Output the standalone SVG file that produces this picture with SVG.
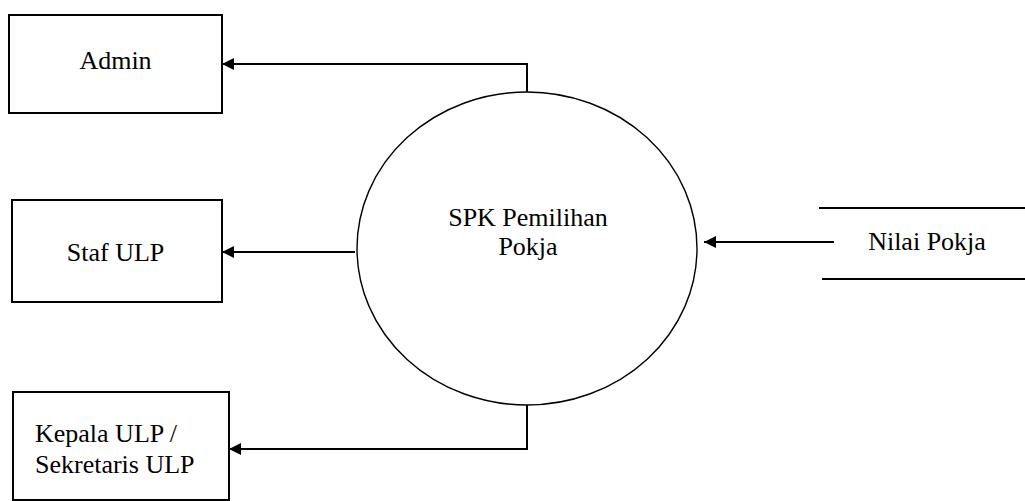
<svg xmlns="http://www.w3.org/2000/svg" width="1025" height="501" viewBox="0 0 1025 501">
  <style>
    .box { fill: #fff; stroke: #000; stroke-width: 2; }
    .proc { fill: #fff; stroke: #000; stroke-width: 1.4; }
    .flow { fill: none; stroke: #000; stroke-width: 2; marker-end: url(#arrow); }
    .store { stroke: #000; stroke-width: 2; }
    .lbl { font-family: "Liberation Serif", "Times New Roman", Times, "DejaVu Serif", serif; font-size: 26px; fill: #000; }
  </style>
  <defs>
    <marker id="arrow" viewBox="0 0 10 10" refX="10" refY="5" markerWidth="7.5" markerHeight="6" markerUnits="strokeWidth" orient="auto">
      <path d="M0,0 L10,5 L0,10 z" fill="#000"/>
    </marker>
  </defs>

  <!-- external entities -->
  <g id="admin">
    <rect class="box" x="9" y="15" width="213" height="98"/>
    <text class="lbl" x="115.5" y="69" text-anchor="middle">Admin</text>
  </g>
  <g id="staf-ulp">
    <rect class="box" x="12" y="200" width="210" height="102"/>
    <text class="lbl" x="115.5" y="261" text-anchor="middle">Staf ULP</text>
  </g>
  <g id="kepala-ulp">
    <rect class="box" x="13" y="392" width="216" height="108"/>
    <text class="lbl" x="35" y="442">Kepala ULP /</text>
    <text class="lbl" x="35" y="473">Sekretaris ULP</text>
  </g>

  <!-- process -->
  <g id="spk">
    <ellipse class="proc" cx="527" cy="248.5" rx="170" ry="156.5"/>
    <text class="lbl" x="528" y="226" text-anchor="middle">SPK Pemilihan</text>
    <text class="lbl" x="528" y="255" text-anchor="middle">Pokja</text>
  </g>

  <!-- data store -->
  <g id="nilai-pokja">
    <line class="store" x1="819" y1="208" x2="1025" y2="208"/>
    <line class="store" x1="822" y1="279" x2="1025" y2="279"/>
    <text class="lbl" x="927" y="250" text-anchor="middle">Nilai Pokja</text>
  </g>

  <!-- data flows -->
  <g id="connectors">
    <polyline class="flow" points="527,92 527,64 222,64"/>
    <line class="flow" x1="355" y1="252" x2="222" y2="252"/>
    <polyline class="flow" points="527,405 527,449 229,449"/>
    <line class="flow" x1="834" y1="242" x2="704" y2="242"/>
  </g>
</svg>
